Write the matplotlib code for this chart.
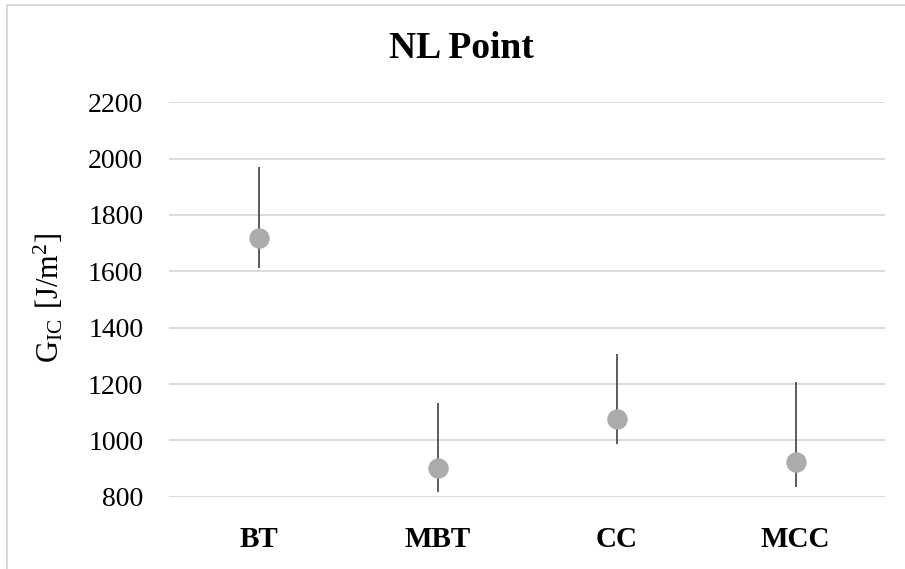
import matplotlib
matplotlib.use("Agg")
import matplotlib.pyplot as plt
from matplotlib.lines import Line2D

# Data
categories = ["BT", "MBT", "CC", "MCC"]
gic_mean = [1717, 903, 1076, 922]
err_plus = [252, 231, 231, 285]
err_minus = [104, 85, 89, 87]
y_ticks = [800, 1000, 1200, 1400, 1600, 1800, 2000, 2200]

W, H, DPI = 905, 569, 100
plt.rcParams["font.family"] = ["Liberation Serif", "DejaVu Serif"]
plt.rcParams["mathtext.fontset"] = "custom"
plt.rcParams["mathtext.rm"] = "Liberation Serif"
plt.rcParams["mathtext.it"] = "Liberation Serif:italic"

fig = plt.figure(figsize=(W / DPI, H / DPI), dpi=DPI)

# Chart frame (light gray border at top/left)
fig.add_artist(Line2D([7 / W, 7 / W], [0, 1 - 5 / H], transform=fig.transFigure,
                      color="#D9D9D9", lw=1.4))
fig.add_artist(Line2D([7 / W, 1], [1 - 5 / H, 1 - 5 / H], transform=fig.transFigure,
                      color="#D9D9D9", lw=1.4))

left, right = 169 / W, 885 / W
bottom, top = 1 - 496.7 / H, 1 - 102.3 / H
ax = fig.add_axes([left, bottom, right - left, top - bottom])

x = list(range(len(categories)))
ax.errorbar(x, gic_mean, yerr=[err_minus, err_plus], fmt="none",
            ecolor="#404040", elinewidth=1.2, capsize=0, zorder=2)
ax.plot(x, gic_mean, linestyle="none", marker="o", markersize=13.7,
        markerfacecolor="#ADAAAA", markeredgecolor="#ADAAAA", zorder=3)

ax.set_xlim(-0.5, len(categories) - 0.5)
ax.set_ylim(800, 2200)
ax.set_yticks(y_ticks)
ax.set_yticklabels([str(v) for v in y_ticks], fontsize=20)
ax.set_xticks(x)
ax.set_xticklabels(categories, fontsize=21, fontweight="bold")
ax.tick_params(axis="y", length=0, pad=18.5)
ax.tick_params(axis="x", length=0, pad=21)
ax.grid(axis="y", color="#D9D9D9", linewidth=1.3)
ax.set_axisbelow(True)
for s in ax.spines.values():
    s.set_visible(False)

fig.text(461 / W, 1 - 48 / H, "NL Point", fontsize=27, fontweight="bold",
         ha="center", va="center")
fig.text(49 / W, 1 - 298 / H, r"$\mathregular{G_{IC}\;\,[J/m^2]}$", fontsize=22,
         rotation=90, ha="center", va="center")

fig.savefig("out.png", dpi=DPI)
